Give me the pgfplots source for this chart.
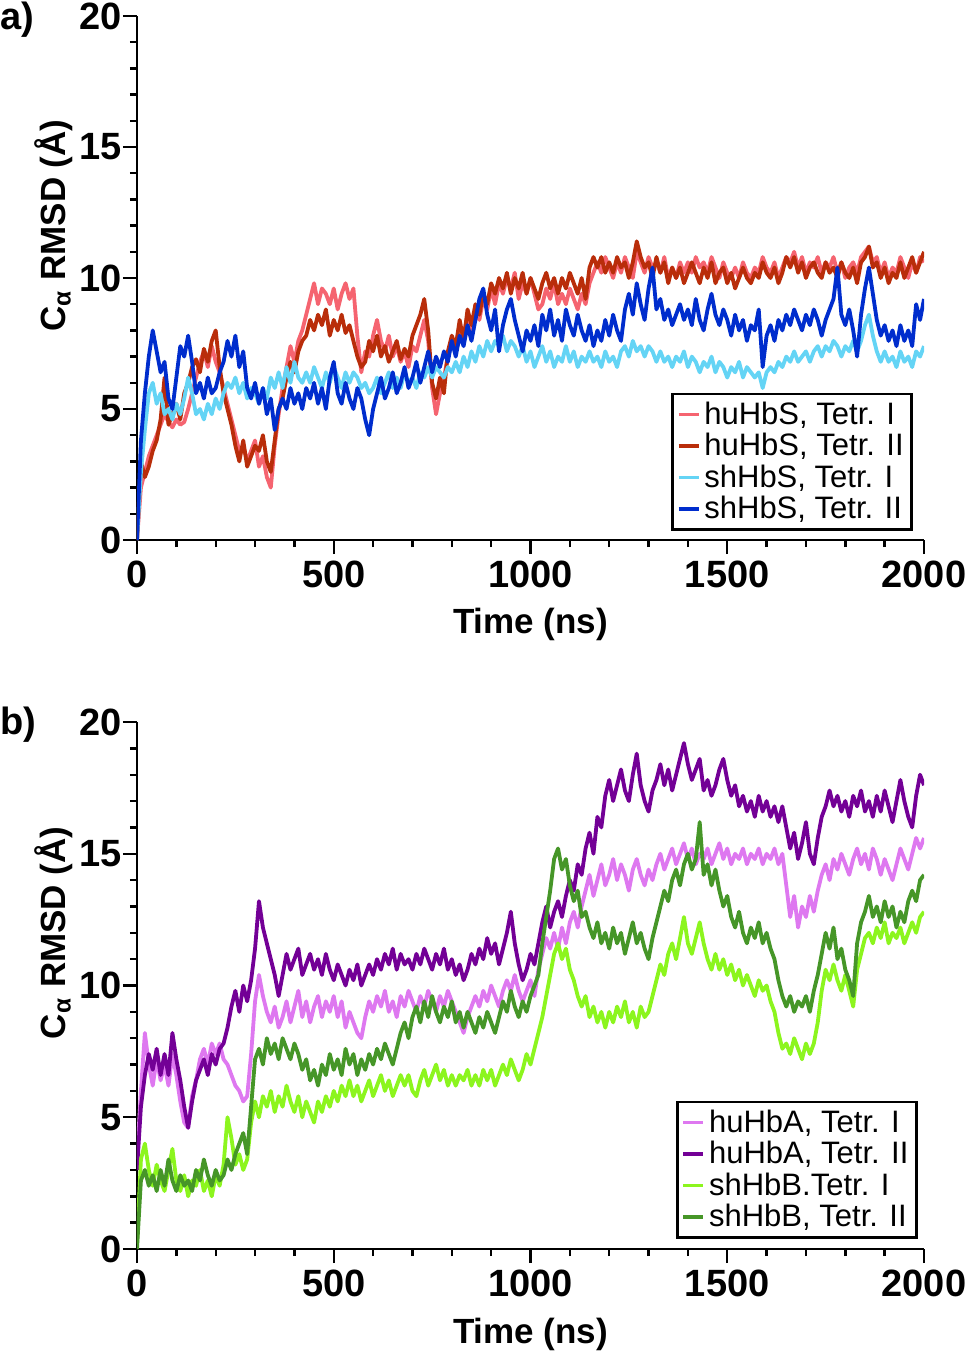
\documentclass[border=0pt]{standalone}
\usepackage{fontspec}
\setmainfont{Liberation Sans}
\usepackage{pgfplots}
\usepackage{pgfplotstable}
\pgfplotsset{compat=1.18}
\definecolor{csalmon}{RGB}{245,100,112}
\definecolor{cred}{RGB}{185,45,10}
\definecolor{clblue}{RGB}{100,212,245}
\definecolor{cdblue}{RGB}{0,45,205}
\definecolor{cviolet}{RGB}{222,120,240}
\definecolor{cpurple}{RGB}{115,0,150}
\definecolor{clgreen}{RGB}{140,245,30}
\definecolor{cdgreen}{RGB}{70,150,40}

\pgfplotstableread{
t a b c d
0 0 0 0 0
10 2.0 3.0 2.6 3.8
20 2.6 2.4 4.2 5.6
30 3.2 2.8 5.6 7.0
40 3.6 3.4 6.0 8.0
50 4.0 3.8 5.2 7.2
60 4.4 4.6 5.6 6.4
70 4.8 6.2 4.8 6.8
80 4.5 4.4 5.0 5.4
90 4.3 4.8 4.6 5.0
100 4.6 5.2 5.2 6.2
110 4.4 4.6 4.8 7.4
120 4.5 5.6 5.4 7.0
130 5.0 6.0 6.2 7.8
140 5.6 6.6 5.6 6.8
150 6.2 6.9 4.8 5.6
160 6.8 6.4 5.0 6.0
170 7.2 7.3 4.6 5.4
180 6.6 6.8 5.2 6.2
190 7.4 7.6 4.8 5.6
200 6.8 8.0 5.4 5.8
210 6.4 6.6 5.0 6.4
220 5.8 5.6 5.6 6.8
230 5.2 5.0 6.0 7.6
240 4.6 4.4 5.8 7.0
250 4.0 3.6 6.2 7.8
260 3.4 3.0 5.6 6.6
270 3.6 3.8 6.0 7.2
280 3.0 2.8 5.4 5.8
290 3.4 3.2 5.8 5.4
300 3.8 3.6 5.6 6.0
310 2.8 3.4 5.2 5.2
320 3.2 4.0 5.8 5.8
330 2.4 3.0 5.4 4.8
340 2.0 2.6 6.2 5.4
350 3.6 3.8 5.8 4.2
360 4.8 5.0 6.4 5.0
370 5.8 5.4 5.8 5.4
380 6.6 6.2 6.6 5.0
390 7.4 6.8 6.0 5.8
400 6.8 6.4 6.8 5.2
410 7.6 7.2 6.2 5.6
420 8.0 7.6 6.0 5.0
430 8.6 7.8 6.4 5.8
440 9.2 8.4 6.0 5.4
450 9.8 8.0 6.6 6.0
460 9.0 8.6 6.2 5.2
470 9.6 8.2 5.8 5.8
480 9.4 8.8 6.4 5.0
490 9.0 7.8 6.0 6.2
500 9.6 8.4 6.6 6.8
510 8.8 8.0 6.2 5.6
520 9.4 8.6 5.8 5.2
530 9.8 7.9 6.4 6.0
540 9.2 8.2 6.0 5.4
550 9.6 7.6 6.4 5.0
560 7.8 7.0 6.2 5.8
570 6.4 6.6 5.8 5.4
580 7.2 6.8 6.0 4.6
590 7.0 7.6 5.6 4.0
600 7.8 7.2 5.8 5.0
610 8.4 7.8 6.2 5.6
620 7.6 7.0 5.6 6.2
630 7.2 7.4 6.0 5.4
640 7.8 6.8 6.4 5.8
650 7.0 7.2 5.8 6.4
660 7.4 7.6 6.2 5.6
670 6.8 6.9 5.8 6.0
680 7.2 7.3 6.4 6.6
690 6.6 7.0 6.0 5.8
700 7.4 7.8 6.2 6.2
710 7.2 8.2 5.8 6.8
720 7.8 8.6 6.4 6.0
730 8.4 9.2 6.2 6.6
740 7.6 8.0 6.6 7.2
750 5.8 6.0 6.2 6.4
760 4.8 5.4 6.6 7.0
770 5.6 6.2 6.4 6.6
780 6.2 5.6 6.2 7.2
790 7.0 7.2 6.6 6.8
800 7.6 7.8 6.4 7.6
810 7.2 7.4 6.8 7.0
820 8.2 8.4 6.4 7.8
830 7.8 7.6 7.0 7.4
840 8.6 8.8 6.6 8.2
850 8.0 8.2 7.2 7.6
860 8.8 9.0 6.8 8.4
870 8.4 8.6 7.4 9.2
880 9.2 9.4 7.0 9.6
890 8.8 9.0 7.6 8.6
900 9.6 9.8 7.2 8.0
910 9.0 9.4 7.6 8.8
920 9.8 10.0 7.4 7.2
930 9.4 9.6 7.8 8.2
940 10.0 10.2 7.2 8.8
950 9.6 9.4 7.6 9.2
960 10.2 10.0 7.4 8.4
970 9.2 9.6 7.0 7.8
980 9.8 10.2 7.4 7.2
990 9.4 9.4 6.8 8.0
1000 10.0 10.0 7.2 7.6
1010 9.4 9.6 6.6 8.2
1020 8.8 9.2 7.0 7.4
1030 9.0 9.8 7.4 8.6
1040 9.6 10.2 6.8 8.0
1050 9.2 9.6 7.2 8.8
1060 9.8 10.0 6.6 7.8
1070 9.0 9.4 7.0 8.4
1080 9.4 10.0 6.8 7.6
1090 9.0 9.6 7.4 8.8
1100 9.6 10.2 6.8 8.2
1110 9.2 9.8 7.2 7.8
1120 8.8 9.4 6.6 8.6
1130 9.4 10.0 7.0 8.0
1140 9.0 9.2 6.8 7.6
1150 9.8 10.4 7.2 8.2
1160 10.2 10.8 6.8 7.4
1170 10.6 10.4 7.0 8.0
1180 10.2 10.8 6.6 7.6
1190 10.8 10.2 7.2 8.4
1200 10.4 10.6 6.8 7.8
1210 10.0 10.2 7.0 8.6
1220 10.6 10.8 6.6 8.0
1230 10.2 10.4 7.2 7.6
1240 10.8 10.6 7.4 8.8
1250 10.4 10.0 7.0 9.4
1260 10.0 10.6 7.6 8.6
1270 11.0 11.4 7.2 9.8
1280 10.6 10.8 7.4 9.0
1290 10.2 10.4 7.0 8.4
1300 10.8 10.6 7.4 9.6
1310 10.4 10.0 7.2 10.4
1320 10.6 10.8 6.8 8.8
1330 10.2 10.2 7.2 9.2
1340 10.8 10.6 6.8 8.4
1350 10.0 9.8 7.0 8.8
1360 10.4 10.4 6.6 8.2
1370 10.0 10.0 7.0 8.6
1380 10.6 10.4 6.8 9.0
1390 10.2 9.8 7.2 8.4
1400 10.6 10.2 6.6 8.8
1410 10.2 10.6 7.0 8.2
1420 10.8 10.2 6.8 9.2
1430 10.4 9.8 6.4 8.4
1440 10.6 10.4 6.8 8.0
1450 10.2 10.0 6.6 8.8
1460 10.8 10.6 7.0 9.4
1470 10.4 9.8 6.4 8.6
1480 10.0 10.2 6.8 8.2
1490 10.6 10.4 6.6 8.8
1500 10.2 9.8 6.2 8.4
1510 10.0 10.2 6.6 7.8
1520 10.4 9.6 6.4 8.6
1530 10.0 10.0 6.8 8.0
1540 10.6 10.4 6.2 8.4
1550 10.2 10.0 6.6 7.6
1560 10.0 9.8 6.4 8.2
1570 10.4 10.2 6.2 8.0
1580 10.2 10.0 6.4 8.8
1590 10.8 10.6 5.8 6.6
1600 10.4 10.2 6.4 7.8
1610 10.2 10.0 6.6 8.2
1620 10.6 10.4 6.4 7.6
1630 10.0 9.8 6.8 8.4
1640 10.4 10.2 6.6 8.0
1650 10.8 10.8 7.0 8.6
1660 10.6 10.4 6.8 8.2
1670 11.0 10.8 7.2 8.8
1680 10.4 10.2 6.8 8.4
1690 10.8 10.6 7.0 8.0
1700 10.2 10.0 7.2 8.6
1710 10.6 10.4 6.8 8.2
1720 10.4 10.6 7.2 8.8
1730 10.8 10.2 7.4 8.4
1740 10.2 10.0 7.0 7.8
1750 10.6 10.6 7.4 8.4
1760 10.4 10.2 7.2 8.8
1770 10.8 10.4 7.6 9.2
1780 10.2 10.0 7.4 10.4
1790 10.6 10.6 7.0 8.6
1800 10.0 10.2 7.4 8.2
1810 10.4 10.0 7.2 8.8
1820 10.6 10.4 7.6 8.0
1830 10.2 9.8 7.2 7.0
1840 10.8 10.6 7.6 8.6
1850 11.0 10.8 8.2 9.6
1860 11.2 11.2 8.6 10.4
1870 10.6 10.4 7.8 9.4
1880 10.8 10.6 7.2 8.4
1890 10.2 10.0 6.8 7.8
1900 10.6 10.4 7.2 8.2
1910 10.0 9.8 6.8 7.6
1920 10.4 10.2 7.0 8.0
1930 10.2 10.0 6.6 7.4
1940 10.8 10.6 7.2 8.2
1950 10.4 10.0 6.8 7.6
1960 10.0 10.4 7.0 8.0
1970 10.6 10.8 6.6 7.4
1980 10.2 10.2 7.2 9.0
1990 10.8 10.6 7.0 8.4
2000 10.6 11.0 7.4 9.2
}\tabA

\pgfplotstableread{
t a b c d
0 3.4 3.0 0.2 0.0
10 6.0 5.4 3.4 2.6
20 8.2 6.6 4.0 3.0
30 7.0 7.4 3.0 2.4
40 6.2 6.8 2.4 2.8
50 7.2 7.6 3.2 2.2
60 6.4 6.6 2.6 3.0
70 7.0 7.4 2.2 2.4
80 6.2 6.6 3.0 3.4
90 7.4 8.2 3.8 2.6
100 6.6 7.2 2.6 2.2
110 5.6 6.4 2.2 2.8
120 4.8 5.4 2.8 2.4
130 4.6 4.6 2.0 2.6
140 5.8 5.6 2.6 2.2
150 6.4 6.4 2.4 3.0
160 7.2 6.8 3.0 2.6
170 7.6 7.2 2.2 3.4
180 7.0 6.6 2.6 2.8
190 7.8 7.4 2.0 2.4
200 7.4 7.0 2.8 3.0
210 7.8 7.6 2.4 2.6
220 7.2 7.8 3.2 2.8
230 7.0 8.4 5.0 3.4
240 6.6 9.2 4.2 3.0
250 6.2 9.8 3.2 3.6
260 6.0 9.0 3.6 4.0
270 5.6 10.0 3.0 4.4
280 5.8 9.4 3.4 3.6
290 7.4 10.2 4.8 5.4
300 9.4 11.4 5.6 7.2
310 10.4 13.2 5.0 7.6
320 9.6 12.2 5.8 7.0
330 9.0 11.6 5.4 8.0
340 8.6 11.0 6.0 7.4
350 9.2 10.4 5.2 7.8
360 8.4 9.6 5.8 7.2
370 8.8 10.4 5.4 8.0
380 9.4 11.2 6.2 7.6
390 8.6 10.6 5.6 7.2
400 9.2 11.0 5.2 7.8
410 9.8 11.4 5.8 7.4
420 8.8 10.4 5.0 6.8
430 9.4 10.8 5.6 7.2
440 8.6 11.2 5.2 6.4
450 9.2 10.6 4.8 6.8
460 9.6 11.0 5.6 6.2
470 8.8 10.4 5.2 7.0
480 9.4 11.2 5.8 6.6
490 9.0 10.6 5.4 7.4
500 9.6 10.2 6.0 6.8
510 8.8 10.8 5.6 7.2
520 9.4 10.4 6.2 6.6
530 8.4 10.0 5.8 7.6
540 9.0 10.6 6.4 7.0
550 8.6 10.2 5.8 7.4
560 8.2 10.8 6.2 6.6
570 8.0 10.0 5.6 7.2
580 8.8 10.4 6.0 6.8
590 9.4 10.8 6.4 7.4
600 9.0 10.4 5.8 7.0
610 9.6 11.0 6.2 7.6
620 9.2 10.6 6.6 7.2
630 9.8 11.2 6.0 7.8
640 9.0 10.8 6.4 7.4
650 9.4 11.4 5.8 7.0
660 8.8 10.6 6.2 7.6
670 9.6 11.2 6.6 8.2
680 9.2 10.8 6.2 8.6
690 9.8 11.0 6.6 8.0
700 9.4 10.6 6.0 8.8
710 9.0 11.2 5.8 9.2
720 9.6 10.8 6.4 8.6
730 9.2 11.4 6.8 9.4
740 9.8 11.0 6.2 8.8
750 9.4 10.6 6.6 9.6
760 9.0 11.2 7.0 9.0
770 9.6 10.8 6.4 8.6
780 9.2 11.4 6.8 9.2
790 9.8 10.6 6.2 8.8
800 9.4 11.0 6.6 9.4
810 9.0 10.4 6.2 8.6
820 8.6 10.8 6.6 9.0
830 8.2 10.2 6.4 8.4
840 8.8 10.6 6.8 9.0
850 9.2 11.2 6.2 8.6
860 9.6 10.8 6.6 8.2
870 9.2 11.4 6.2 8.8
880 9.8 11.0 6.8 8.4
890 9.4 11.8 6.4 9.0
900 10.0 11.2 6.8 8.6
910 9.6 11.6 6.2 8.2
920 9.2 10.8 6.6 8.8
930 9.8 11.4 7.0 9.4
940 10.2 12.0 6.6 9.0
950 9.8 12.8 7.2 9.8
960 10.4 11.6 6.8 9.2
970 9.8 10.8 6.4 8.8
980 9.4 10.2 6.8 9.4
990 9.8 10.6 7.4 9.0
1000 10.2 11.2 7.0 9.6
1010 9.6 10.8 7.6 10.0
1020 10.6 11.6 8.2 10.4
1030 11.2 12.4 8.8 11.6
1040 11.8 13.0 9.6 12.6
1050 11.4 12.2 10.4 13.6
1060 12.0 12.8 11.2 14.8
1070 11.4 13.2 11.6 15.2
1080 12.2 12.6 11.0 14.4
1090 11.6 13.4 11.4 14.8
1100 12.4 14.0 10.6 13.8
1110 12.8 13.6 10.2 13.2
1120 12.2 14.6 9.6 13.6
1130 13.0 14.2 9.2 12.6
1140 13.6 15.2 9.6 12.8
1150 14.2 15.8 8.8 12.2
1160 13.4 15.0 9.2 11.8
1170 14.0 16.4 8.6 12.4
1180 14.6 16.0 9.0 11.6
1190 13.8 17.2 8.4 12.0
1200 14.2 17.8 9.0 11.4
1210 14.8 17.0 8.6 12.2
1220 14.0 17.6 9.2 11.6
1230 14.6 18.2 8.8 12.0
1240 14.2 17.4 9.4 11.2
1250 13.6 17.0 8.6 11.8
1260 14.4 18.0 9.0 12.4
1270 14.8 18.8 8.4 11.6
1280 14.2 17.6 9.2 12.0
1290 13.8 17.0 8.8 11.4
1300 14.4 16.6 9.0 11.0
1310 14.0 17.4 9.6 11.8
1320 14.6 17.8 10.2 12.4
1330 15.0 18.4 10.8 13.0
1340 14.4 17.6 10.4 13.6
1350 14.8 18.2 11.2 13.2
1360 15.2 17.4 11.6 14.0
1370 14.6 18.0 11.0 14.4
1380 15.0 18.6 11.8 13.8
1390 15.4 19.2 12.6 14.6
1400 14.8 18.4 11.6 15.0
1410 15.2 17.8 11.2 14.4
1420 14.6 18.2 11.8 14.8
1430 15.0 18.6 12.4 16.2
1440 14.8 17.4 11.6 14.2
1450 15.2 17.8 11.0 14.6
1460 14.6 17.2 10.6 13.8
1470 15.0 17.6 11.2 14.4
1480 15.4 18.2 10.6 13.6
1490 14.8 18.6 11.0 13.0
1500 15.2 17.8 10.4 13.4
1510 14.6 17.2 10.8 12.6
1520 15.0 17.6 10.2 12.2
1530 14.8 16.8 10.6 12.8
1540 15.2 17.2 10.0 12.0
1550 14.6 16.6 10.4 11.6
1560 15.0 17.0 10.0 12.2
1570 14.8 16.4 9.6 11.8
1580 15.2 17.2 10.2 12.4
1590 14.6 16.6 9.8 11.6
1600 15.0 17.0 10.0 12.0
1610 14.8 16.4 9.4 11.4
1620 15.2 16.8 9.0 11.0
1630 14.6 16.2 8.2 10.2
1640 15.0 16.8 7.6 9.6
1650 13.8 16.0 7.8 9.2
1660 12.6 15.2 7.4 9.6
1670 13.4 15.8 8.0 9.0
1680 12.2 14.8 7.6 9.4
1690 13.0 15.4 7.2 9.2
1700 12.6 16.2 7.8 9.6
1710 13.4 15.0 7.4 9.0
1720 12.8 14.6 7.8 9.8
1730 13.6 15.6 8.6 10.4
1740 14.2 16.4 9.8 11.2
1750 14.6 16.8 10.6 12.0
1760 14.0 17.4 10.2 11.4
1770 14.8 16.8 10.8 12.2
1780 14.4 17.2 10.2 11.0
1790 15.0 16.6 9.8 11.4
1800 14.6 17.0 10.4 10.6
1810 14.2 16.4 9.8 10.2
1820 14.8 17.2 9.2 9.6
1830 15.2 16.8 10.6 11.6
1840 14.6 17.4 11.2 12.4
1850 15.0 16.6 11.8 12.8
1860 14.4 17.0 12.0 13.4
1870 15.2 16.4 11.6 12.6
1880 14.8 17.2 12.2 13.0
1890 14.2 16.6 11.8 12.4
1900 14.8 17.4 12.4 13.2
1910 14.4 16.8 11.6 12.6
1920 14.0 16.2 12.0 13.0
1930 14.6 17.0 11.8 12.2
1940 15.2 17.8 12.2 12.8
1950 14.8 17.0 11.6 12.4
1960 14.4 16.4 12.0 13.2
1970 15.0 16.0 12.4 13.6
1980 15.6 17.2 12.0 13.2
1990 15.2 18.0 12.6 14.0
2000 15.6 17.6 12.8 14.2
}\tabB

\pgfplotsset{
  rmsd/.style={
    scale only axis, width=393.5pt, height=262pt,
    xmin=0, xmax=2000, ymin=0, ymax=20,
    axis x line*=bottom, axis y line*=left,
    axis line style={line width=1.4pt},
    xtick={0,500,1000,1500,2000}, minor x tick num=4,
    ytick={0,5,10,15,20}, minor y tick num=4,
    tick align=outside, major tick length=7pt, minor tick length=3.5pt,
    every tick/.style={black, line width=1.2pt},
    /pgf/number format/assume math mode=true,
    /pgf/number format/set thousands separator={},
    tick label style={font=\bfseries\fontsize{19}{19}\selectfont},
    yticklabel style={inner xsep=0.5pt},
    xlabel={Time (ns)},
    ylabel={C\textsubscript{α} RMSD (Å)},
    label style={font=\bfseries\fontsize{17.5}{19}\selectfont},
    xlabel style={at={(axis description cs:0.5,-0.162)}, anchor=center},
    ylabel style={at={(axis description cs:-0.106,0.6)}, anchor=center},
    legend cell align=left,
    legend image code/.code={\draw[#1, line width=1.8pt] (0pt,0pt) -- (10pt,0pt);},
    every axis plot/.append style={line width=1.9pt, line join=round, mark=none},
  }
}

\begin{document}
\begin{tikzpicture}
\useasboundingbox (0,0) rectangle (483.5pt,-677pt);
\node[anchor=west, inner sep=0pt, font=\bfseries\fontsize{19}{19}\selectfont] at (0pt,-10pt) {a)};
\node[anchor=west, inner sep=0pt, font=\bfseries\fontsize{19}{19}\selectfont] at (0pt,-362.5pt) {b)};
\begin{axis}[rmsd, at={(68.5pt,-8pt)}, anchor=north west,
  legend style={at={(0.986,0.017)}, anchor=south east, draw=black, line width=1.3pt,
    font=\fontsize{15.5}{16}\selectfont, inner xsep=2pt, inner ysep=2pt, row sep=-1pt}]
\addplot[csalmon] table[x=t,y=a]{\tabA};
\addplot[cred] table[x=t,y=b]{\tabA};
\addplot[clblue] table[x=t,y=c]{\tabA};
\addplot[cdblue] table[x=t,y=d]{\tabA};
\legend{{huHbS, Tetr. I}, {huHbS, Tetr. II}, {shHbS, Tetr. I}, {shHbS, Tetr. II}}
\end{axis}
\begin{axis}[rmsd, height=263.5pt, at={(68.5pt,-361pt)}, anchor=north west,
  legend style={at={(0.992,0.019)}, anchor=south east, draw=black, line width=1.3pt,
    font=\fontsize{15.5}{16}\selectfont, inner xsep=2pt, inner ysep=2pt, row sep=-1pt}]
\addplot[cviolet] table[x=t,y=a]{\tabB};
\addplot[cpurple] table[x=t,y=b]{\tabB};
\addplot[clgreen] table[x=t,y=c]{\tabB};
\addplot[cdgreen] table[x=t,y=d]{\tabB};
\legend{{huHbA, Tetr. I}, {huHbA, Tetr. II}, {shHbB.Tetr. I}, {shHbB, Tetr. II}}
\end{axis}
\end{tikzpicture}
\end{document}
